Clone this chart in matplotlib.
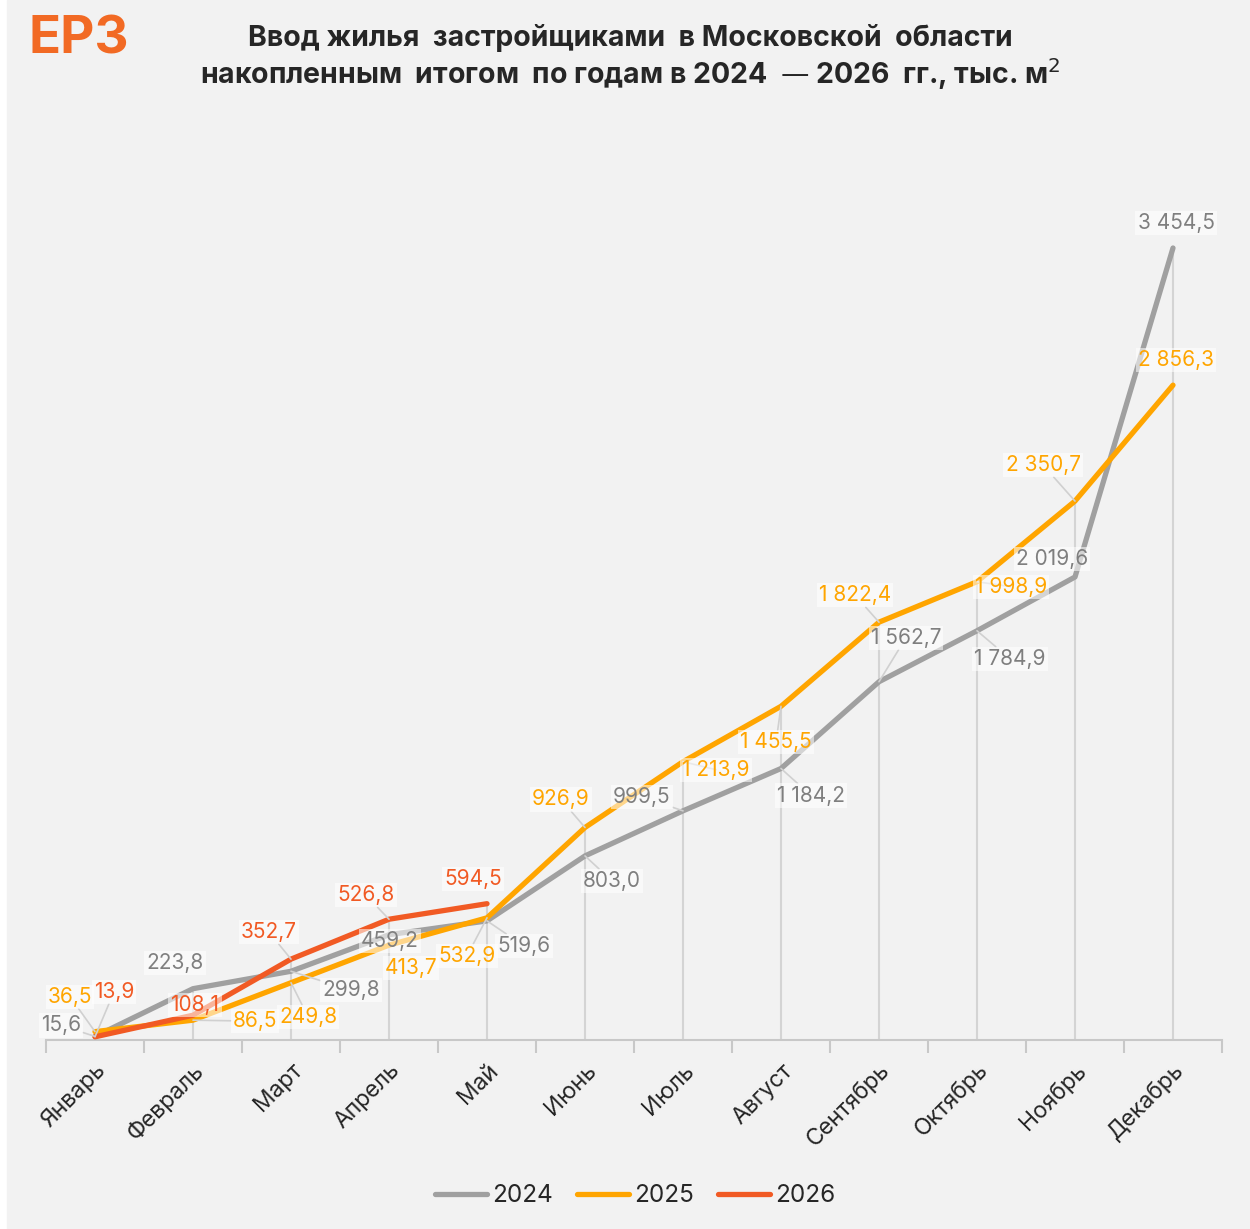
import numpy as np
import matplotlib
matplotlib.use("Agg")
import matplotlib.pyplot as plt

plt.rcParams['font.family'] = ['Inter', 'DejaVu Sans']

months = ['Январь', 'Февраль', 'Март', 'Апрель', 'Май', 'Июнь', 'Июль',
          'Август', 'Сентябрь', 'Октябрь', 'Ноябрь', 'Декабрь']
y2024 = [15.6, 223.8, 299.8, 459.2, 519.6, 803.0, 999.5, 1184.2, 1562.7, 1784.9, 2019.6, 3454.5]
y2025 = [36.5, 86.5, 249.8, 413.7, 532.9, 926.9, 1213.9, 1455.5, 1822.4, 1998.9, 2350.7, 2856.3]
y2026 = [13.9, 108.1, 352.7, 526.8, 594.5]

# label offsets in pixels (text centre relative to point)
off2024 = [(-34, 11), (-18, 26), (60, -19), (1, -6), (37, -25), (27, -25), (-41, 14),
           (30, -27), (27, 44), (33, -28), (-23, 18), (3, 25)]
off2025 = [(-25, 35), (62, -1), (17, -34), (22, -23), (-20, -38), (-24, 28), (33, -8),
           (-5, -36), (-24, 27), (34, -5), (-32, 36), (3, 25)]
off2026 = [(19, 45), (2, 10), (-22, 27), (-23, 24), (-14, 25)]

c24, c25, c26 = '#a0a0a0', '#ffa500', '#f15a24'
t24 = '#7f7f7f'
bg = '#f2f2f2'


def fmt(v):
    s = f'{v:,.1f}'.replace(',', ' ').replace('.', ',')
    return s


fig = plt.figure(figsize=(12.5, 12.29), dpi=100)
fig.patch.set_facecolor('white')
fig.add_artist(plt.Rectangle((7 / 1250, 0), 1 - 7 / 1250, 1, transform=fig.transFigure,
                             color=bg, zorder=-10))

ax = fig.add_axes([46 / 1250, 189 / 1229, (1222 - 46) / 1250, (1040 - 130) / 1229])
ax.set_facecolor('none')
x = np.arange(len(months))
ax.set_xlim(-0.5, 11.5)
ax.set_ylim(0, (1040 - 130) / (792 / 3454.5))

# drop lines
tops = [max(v for v in col if v is not None) for col in
        zip(y2024, y2025, y2026 + [None] * (12 - len(y2026)))]
ax.vlines(x, 0, tops, color='#d4d4d4', lw=1.5, zorder=1)

ax.plot(x, y2024, color=c24, lw=3.8, solid_capstyle='round', zorder=3, label='2024')
ax.plot(x, y2025, color=c25, lw=3.8, solid_capstyle='round', zorder=3, label='2025')
ax.plot(x[:len(y2026)], y2026, color=c26, lw=3.8, solid_capstyle='round', zorder=4, label='2026')


def labels(vals, offs, col):
    for i, (v, (dx, dy)) in enumerate(zip(vals, offs)):
        lead = np.hypot(dx, dy) > 33
        ax.annotate(fmt(v), (x[i], v), xytext=(dx, dy), textcoords='offset pixels',
                    ha='center', va='center', fontsize=15, color=col, zorder=6,
                    bbox=dict(boxstyle='square,pad=0.1', fc='white', ec='none', alpha=0.55),
                    arrowprops=dict(arrowstyle='-', color='#d0d0d0', lw=1.2,
                                    shrinkA=0, shrinkB=0) if lead else None)


labels(y2024, off2024, t24)
labels(y2025, off2025, c25)
labels(y2026, off2026, c26)

for s in ['top', 'left', 'right']:
    ax.spines[s].set_visible(False)
ax.spines['bottom'].set_color('#c8c8c8')
ax.spines['bottom'].set_linewidth(1.5)
ax.set_yticks([])
ax.set_xticks(x)
ax.set_xticklabels(months, rotation=45, ha='right', rotation_mode='anchor',
                   fontsize=16.5, color='#262626')
ax.tick_params(axis='x', which='major', length=0, pad=14)
ax.set_xticks(np.arange(-0.5, 12, 1), minor=True)
ax.tick_params(axis='x', which='minor', length=9, width=1.5, color='#c8c8c8')

fig.text(630 / 1250, 1 - 38 / 1229, 'Ввод жилья  застройщиками  в Московской  области',
         ha='center', va='center', fontsize=20.5, fontweight='bold', color='#262626')
fig.text(630 / 1250, 1 - 74 / 1229, 'накопленным  итогом  по годам в 2024  — 2026  гг., тыс. м$^2$',
         ha='center', va='center', fontsize=20.5, fontweight='bold', color='#262626')
fig.text(79 / 1250, 1 - 40 / 1229, 'ЕРЗ', ha='center', va='center', fontsize=38,
         fontweight='bold', color='#f26a24')

fig.legend(loc='center', bbox_to_anchor=(0.508, 1 - 1196 / 1229), ncol=3, frameon=False,
           fontsize=17.5, handlelength=2.15, handletextpad=0.2, columnspacing=1.0,
           labelcolor='#262626')

fig.savefig('out.png', dpi=100, facecolor=fig.get_facecolor())
